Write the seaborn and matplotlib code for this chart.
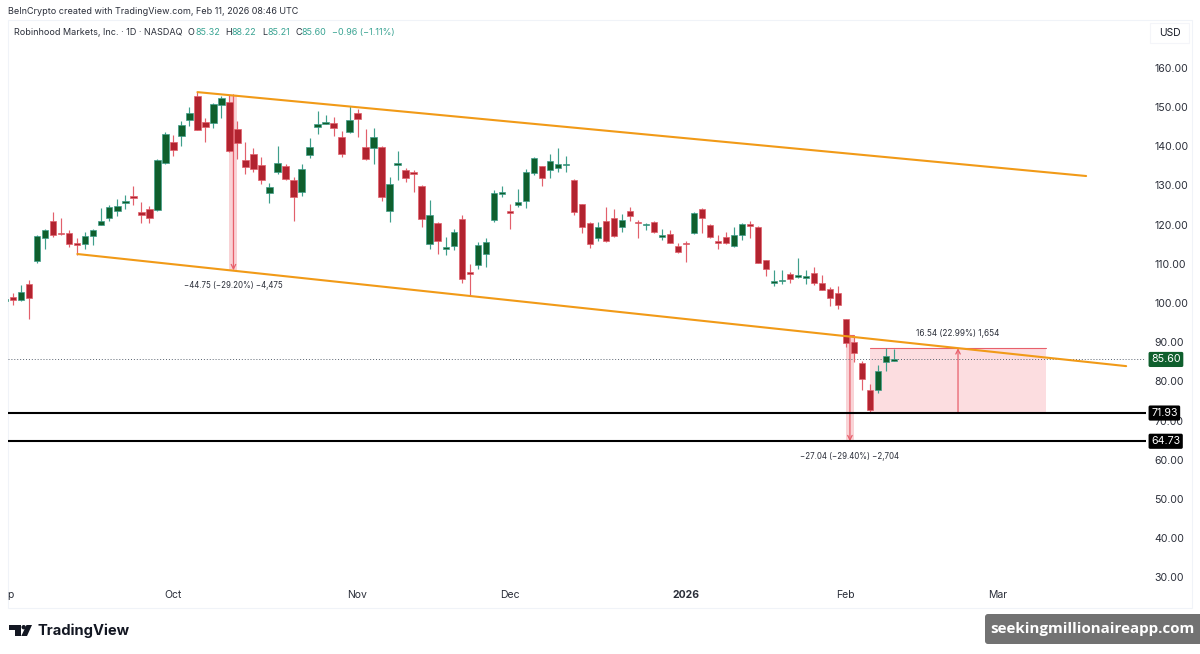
import numpy as np
import pandas as pd
import matplotlib.pyplot as plt
import seaborn as sns
from matplotlib.patches import Rectangle, Polygon, Circle, FancyBboxPatch

# daily candles (index = trading day)
opens = [100.4, 101.5, 100.8, 104.9, 110.6, 116.6, 120.8, 117.9, 117.8, 115.2, 115.0, 117.0, 120.0, 121.6, 123.5, 125.4,
         127.4, 123.1, 124.0, 123.7, 135.6, 141.1, 142.6, 146.7, 152.8, 146.2, 146.0, 150.4, 151.3, 144.4, 136.5, 137.9,
         135.1, 128.1, 133.3, 135.0, 131.5, 128.2, 137.8, 144.8, 145.7, 145.8, 142.3, 143.5, 148.6, 139.7, 139.5, 139.9,
         123.6, 135.3, 133.9, 133.3, 129.8, 115.0, 120.3, 113.9, 114.6, 121.5, 107.8, 109.8, 112.4, 121.3, 127.9, 123.4,
         125.1, 126.0, 133.1, 134.9, 133.9, 134.4, 135.1, 131.5, 125.2, 120.3, 116.6, 120.8, 121.7, 119.4, 123.4, 120.6,
         119.9, 120.6, 116.8, 117.5, 114.6, 115.4, 117.8, 124.0, 119.9, 115.7, 116.8, 114.5, 117.3, 120.1, 119.5, 110.9,
         105.0, 105.5, 107.3, 106.7, 106.3, 107.6, 105.2, 103.7, 102.6, 95.8, 90.1, 84.8, 77.7, 77.8, 84.9, 85.32]
highs = [101.5, 102.6, 104.6, 105.9, 117.4, 118.8, 123.3, 121.8, 118.5, 116.5, 118.0, 118.9, 124.2, 125.0, 126.5, 127.6,
         129.9, 125.7, 124.8, 136.7, 143.5, 142.9, 146.5, 150.1, 153.8, 147.1, 151.1, 152.8, 153.1, 146.5, 141.2, 139.5,
         137.3, 130.5, 140.1, 135.4, 132.2, 135.5, 142.0, 149.1, 148.0, 147.5, 144.0, 150.3, 149.4, 144.3, 144.6, 140.0,
         132.1, 138.9, 134.4, 133.9, 130.0, 126.3, 120.7, 116.9, 119.0, 122.4, 109.9, 115.6, 116.7, 128.8, 129.8, 125.2,
         129.2, 134.3, 137.2, 135.0, 137.9, 139.5, 137.4, 131.7, 125.3, 120.6, 120.6, 124.6, 124.1, 122.7, 124.4, 121.1,
         120.5, 120.9, 118.8, 118.5, 115.4, 115.8, 123.2, 124.2, 120.1, 117.3, 118.0, 119.5, 120.3, 120.9, 119.6, 111.0,
         108.3, 108.4, 108.0, 111.4, 108.4, 109.1, 107.1, 104.2, 104.3, 95.9, 91.4, 85.2, 79.3, 84.2, 88.4, 88.22]
lows = [100.0, 99.5, 100.6, 95.9, 110.1, 113.7, 116.8, 117.4, 114.2, 112.3, 113.8, 114.8, 119.8, 120.9, 122.3, 124.1,
        124.9, 120.5, 120.3, 123.6, 135.5, 137.6, 140.1, 145.2, 144.1, 141.2, 144.6, 147.1, 138.6, 136.7, 132.9, 133.5,
        130.4, 125.6, 132.8, 131.4, 120.8, 127.3, 137.1, 143.1, 145.7, 142.7, 137.2, 143.3, 142.4, 136.5, 135.5, 126.1,
        120.6, 131.5, 130.8, 128.4, 119.5, 113.9, 112.4, 112.3, 113.5, 105.2, 101.8, 108.6, 109.1, 120.7, 127.1, 118.8,
        124.6, 124.3, 132.6, 129.8, 132.0, 133.5, 133.3, 122.4, 117.8, 114.1, 115.8, 115.6, 116.9, 118.2, 121.0, 116.7,
        118.5, 117.9, 116.0, 115.2, 112.8, 110.5, 117.5, 117.9, 116.6, 113.8, 115.0, 114.4, 116.0, 116.6, 110.1, 106.9,
        104.4, 104.9, 105.0, 106.5, 104.8, 104.7, 103.2, 99.2, 98.5, 88.7, 85.0, 77.8, 71.9, 77.1, 82.7, 85.21]
closes = [101.0, 100.8, 102.7, 101.2, 117.1, 118.5, 117.4, 117.6, 115.0, 114.7, 117.2, 118.6, 120.8, 124.6, 124.7, 126.1,
          126.7, 122.5, 121.7, 136.6, 143.0, 139.0, 145.5, 148.5, 144.1, 144.8, 150.8, 152.2, 138.9, 140.7, 134.8, 134.1,
          131.4, 129.7, 135.6, 131.7, 127.1, 134.1, 139.7, 145.7, 146.1, 144.6, 137.9, 146.6, 146.9, 136.7, 142.3, 127.0,
          130.3, 135.7, 131.8, 132.9, 121.4, 122.4, 115.9, 114.3, 118.0, 106.0, 107.3, 114.8, 115.5, 128.0, 128.3, 123.0,
          125.8, 133.4, 136.9, 131.8, 136.2, 135.5, 135.5, 123.3, 119.5, 115.1, 119.3, 115.7, 117.1, 121.3, 122.3, 120.3,
          120.2, 118.0, 117.3, 115.3, 113.0, 115.1, 123.0, 121.6, 116.8, 115.3, 115.2, 117.4, 120.1, 119.6, 110.3, 108.7,
          105.6, 105.8, 106.2, 107.1, 106.9, 105.1, 103.3, 101.2, 99.4, 89.9, 87.2, 80.5, 72.7, 82.7, 86.4, 85.60]

price_ticks = [30, 40, 50, 60, 70, 80, 90, 100, 110, 120, 130, 140, 150, 160]
month_pos = [0.65, 21, 44, 63, 85, 105, 124]
month_labels = ['p', 'Oct', 'Nov', 'Dec', '2026', 'Feb', 'Mar']

# drawings
upper_x = [24, 135]
upper_y = [153.8, 132.4]
lower_x = [9, 140]
lower_y = [112.5, 83.9]
support_levels = [71.93, 64.73]
last_price = 85.60
drop1 = (28, 29, 153.1, 108.35, '\u221244.75 (\u221229.20%) \u22124,475')
drop2 = (105, 106, 91.77, 64.73, '\u221227.04 (\u221229.40%) \u22122,704')
rise_x0, rise_x1, rise_low, rise_high = 108, 130, 71.93, 88.47
rise_label = '16.54 (22.99%) 1,654'

GREEN = '#0f5f2d'
GREEN_W = '#3f9f8c'
RED = '#b2232f'
RED_W = '#e2606c'
ORANGE = '#f19a17'
MEASURE = '#e8606c'
TEAL = '#3aa493'
INK = '#2a2e39'

sns.set_theme(style="white")
plt.rcParams['font.family'] = ['Inter', 'DejaVu Sans']

df = pd.DataFrame({'open': opens, 'high': highs, 'low': lows, 'close': closes})
df['n'] = np.arange(len(df))
df['up'] = df['close'] >= df['open']

fig = plt.figure(figsize=(12, 6.54), dpi=100, facecolor='white')

# overlay in pixel coords for header, footer and frame
ov = fig.add_axes([0, 0, 1, 1], zorder=-1)
ov.set_xlim(0, 1200)
ov.set_ylim(654, 0)
ov.axis('off')
ov.add_patch(Rectangle((8, 20), 1184, 588, fc='none', ec='#f0f3f8', lw=0.8))
ov.add_patch(Rectangle((1150, 23), 39, 20, fc='none', ec='#f4f5f9', lw=0.8))
ov.text(1170, 33, 'USD', ha='center', va='center', fontsize=7.4, color='#131722')
ov.text(8, 12, 'BeInCrypto created with TradingView.com, Feb 11, 2026 08:46 UTC', fontsize=6.5, color=INK, va='center')
ov.text(14, 32.5, 'Robinhood Markets, Inc. \u00b7 1D \u00b7 NASDAQ', fontsize=6.5, color=INK, va='center')
for px, s, c in [(188, 'O', INK), (195, '85.32', TEAL), (225, 'H', INK), (232, '88.22', TEAL), (262, 'L', INK),
                 (267.5, '85.21', TEAL), (296, 'C', INK), (302, '85.60', TEAL), (332, '\u22120.96 (\u22121.11%)', TEAL)]:
    ov.text(px, 32.5, s, fontsize=6.5, color=c, va='center')

# TradingView logo
ov.add_patch(Polygon([(9.3, 625), (20.7, 625), (20.7, 636), (15, 636), (15, 629.5), (9.3, 629.5)], fc='#131722', ec='none'))
ov.add_patch(Circle((23.7, 627.2), 2.2, fc='#131722', ec='none'))
ov.add_patch(Polygon([(26.5, 625), (32, 625), (27, 636), (21.3, 636)], fc='#131722', ec='none'))
ov.text(37.5, 631, 'TradingView', fontsize=10.6, fontweight='bold', color='#131722', va='center')

# watermark
ov.add_patch(FancyBboxPatch((987, 616), 215, 26, boxstyle='round,pad=2,rounding_size=3', fc='#727272', ec='none'))
ov.text(1092.5, 629, 'seekingmillionaireapp.com', fontsize=10.9, fontweight='bold', color='white', ha='center', va='center',
        family=['Open Sans', 'DejaVu Sans'])

ax = fig.add_axes([8 / 1200, 1 - 585 / 654, 1138 / 1200, 565 / 654])
ax.set_facecolor('none')

# measure bands go under the candles
for x0, x1, top, bottom, label in [drop1, drop2]:
    ax.fill_between([x0, x1], bottom, top, color='#f7c5c9', alpha=0.75, lw=0, zorder=1)
    ax.plot([x0, x1], [top, top], color=MEASURE, lw=0.8, zorder=2)
    ax.annotate('', xy=((x0 + x1) / 2, bottom), xytext=((x0 + x1) / 2, top), zorder=2,
                arrowprops=dict(arrowstyle='->', color=MEASURE, lw=0.9, shrinkA=0, shrinkB=0, mutation_scale=8))
    ax.annotate(label, xy=((x0 + x1) / 2, bottom), xytext=(0, -8), textcoords='offset points', ha='center', va='top',
                fontsize=5.7, color=INK)

ax.fill_between([rise_x0, rise_x1], rise_low, rise_high, color='#fcdde0', lw=0, zorder=1)
ax.plot([rise_x0, rise_x1], [rise_high, rise_high], color=MEASURE, lw=0.8, zorder=2)
rise_mid = (rise_x0 + rise_x1) / 2
ax.annotate('', xy=(rise_mid, rise_high), xytext=(rise_mid, rise_low), zorder=2,
            arrowprops=dict(arrowstyle='->', color=MEASURE, lw=0.9, shrinkA=0, shrinkB=0, mutation_scale=8))
ax.annotate(rise_label, xy=(rise_mid, rise_high), xytext=(0, 7), textcoords='offset points', ha='center', va='bottom',
            fontsize=5.9, color=INK)

# candles
for up, wick, body in [(True, GREEN_W, GREEN), (False, RED_W, RED)]:
    part = df[df['up'] == up]
    ax.vlines(part['n'], part['low'], part['high'], color=wick, lw=0.85, zorder=3)
    ax.bar(part['n'], (part['close'] - part['open']).abs(), bottom=part[['open', 'close']].min(axis=1), width=0.78,
           color=body, edgecolor=wick, linewidth=0.5, zorder=4)

# channel
sns.lineplot(x=upper_x, y=upper_y, color=ORANGE, lw=1.5, ax=ax, zorder=5)
sns.lineplot(x=lower_x, y=lower_y, color=ORANGE, lw=1.5, ax=ax, zorder=5)

# levels
ax.axhline(last_price, color='#5b6470', lw=0.7, ls=(0, (1, 2)), zorder=2)
for lvl in support_levels:
    ax.axhline(lvl, color='black', lw=1.5, zorder=6)

ax.set_xlim(0.338, 142.48)
ax.set_ylim(28.06, 172.2)
ax.set_xticks(month_pos)
ax.set_xticklabels(month_labels)
ax.yaxis.tick_right()
ax.set_yticks(price_ticks)
ax.set_yticklabels([f'{p:.2f}' for p in price_ticks])
ax.tick_params(axis='y', length=0, pad=6, labelsize=7.6, labelcolor=INK)
ax.tick_params(axis='x', length=0, pad=3.5, labelsize=7.5, labelcolor=INK)
for lab in ax.get_xticklabels():
    if lab.get_text() == '2026':
        lab.set_fontweight('bold')
sns.despine(ax=ax, left=True, bottom=True, right=True, top=True)

# price tags on the scale
for lvl, fc in [(71.93, 'black'), (64.73, 'black'), (last_price, GREEN)]:
    ax.text(1.0045, lvl, f'{lvl:.2f}', transform=ax.get_yaxis_transform(), ha='left', va='center', fontsize=7.7,
            color='white', zorder=10, clip_on=False,
            bbox=dict(boxstyle='round,pad=0.24,rounding_size=0.15', fc=fc, ec='none'))

fig.savefig('out.png', dpi=100)
